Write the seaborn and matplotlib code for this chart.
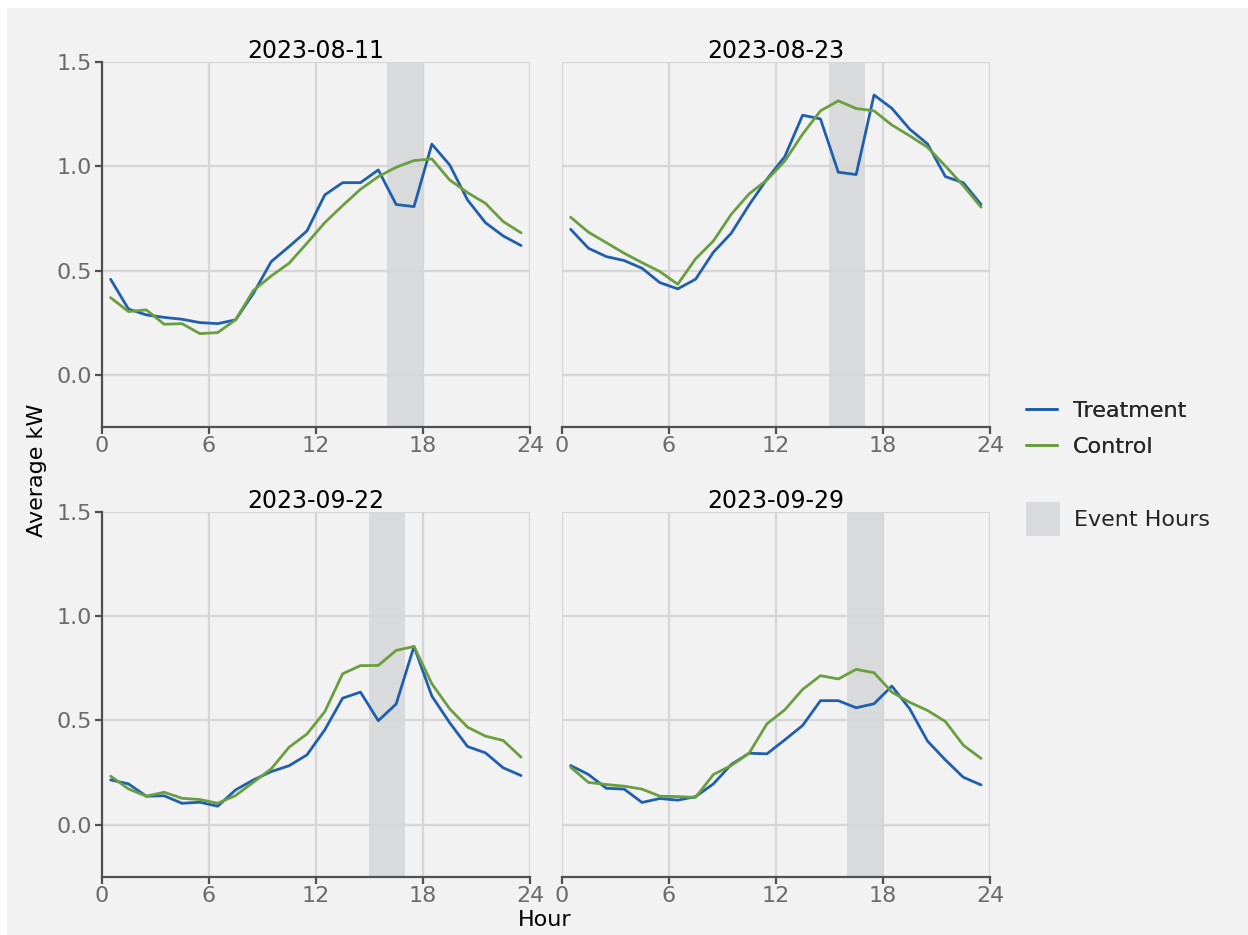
import numpy as np
import pandas as pd
import matplotlib
matplotlib.use("Agg")
import matplotlib.pyplot as plt
from matplotlib.patches import Rectangle, Patch
from matplotlib.lines import Line2D
import seaborn as sns

hours = [h + 0.5 for h in range(24)]
dates = ["2023-08-11", "2023-08-23", "2023-09-22", "2023-09-29"]
event_start = [16, 15, 15, 16]
event_end = [18, 17, 17, 18]

treat_0811 = [0.458, 0.315, 0.287, 0.275, 0.266, 0.250, 0.245, 0.263, 0.39, 0.543, 0.615, 0.69,
              0.863, 0.922, 0.922, 0.983, 0.817, 0.807, 1.107, 1.007, 0.839, 0.730, 0.666, 0.620]
ctrl_0811 = [0.370, 0.303, 0.311, 0.242, 0.245, 0.197, 0.202, 0.263, 0.404, 0.474, 0.535, 0.631,
             0.730, 0.812, 0.890, 0.951, 0.996, 1.028, 1.036, 0.935, 0.874, 0.823, 0.735, 0.681]
treat_0823 = [0.698, 0.607, 0.567, 0.548, 0.511, 0.442, 0.412, 0.458, 0.588, 0.679, 0.815, 0.939,
              1.047, 1.246, 1.228, 0.972, 0.961, 1.343, 1.279, 1.179, 1.108, 0.951, 0.922, 0.817]
ctrl_0823 = [0.756, 0.684, 0.634, 0.583, 0.538, 0.495, 0.434, 0.556, 0.642, 0.770, 0.868, 0.935,
             1.026, 1.155, 1.267, 1.315, 1.278, 1.267, 1.199, 1.147, 1.092, 1.002, 0.908, 0.804]
treat_0922 = [0.214, 0.195, 0.136, 0.138, 0.102, 0.107, 0.088, 0.166, 0.214, 0.254, 0.282, 0.334,
              0.454, 0.606, 0.635, 0.498, 0.578, 0.854, 0.616, 0.488, 0.374, 0.344, 0.272, 0.235]
ctrl_0922 = [0.232, 0.171, 0.136, 0.155, 0.126, 0.120, 0.102, 0.139, 0.203, 0.267, 0.371, 0.434,
             0.541, 0.723, 0.762, 0.763, 0.835, 0.854, 0.675, 0.555, 0.467, 0.424, 0.403, 0.323]
treat_0929 = [0.283, 0.240, 0.174, 0.170, 0.106, 0.125, 0.117, 0.134, 0.195, 0.288, 0.342, 0.339,
              0.406, 0.475, 0.594, 0.594, 0.560, 0.579, 0.664, 0.555, 0.400, 0.310, 0.227, 0.190]
ctrl_0929 = [0.275, 0.202, 0.192, 0.184, 0.170, 0.136, 0.134, 0.130, 0.240, 0.283, 0.342, 0.483,
             0.550, 0.648, 0.714, 0.698, 0.744, 0.728, 0.635, 0.586, 0.547, 0.494, 0.381, 0.317]

treatment = [treat_0811, treat_0823, treat_0922, treat_0929]
control = [ctrl_0811, ctrl_0823, ctrl_0922, ctrl_0929]

x_ticks = [0, 6, 12, 18, 24]
y_ticks = [0.0, 0.5, 1.0, 1.5]

rows = []
for d, tr, ct in zip(dates, treatment, control):
    for h, t, c in zip(hours, tr, ct):
        rows.append({"date": d, "hour": h, "group": "Treatment", "kw": t})
        rows.append({"date": d, "hour": h, "group": "Control", "kw": c})
df = pd.DataFrame(rows)

BG = "#f2f2f2"
BLUE = "#1f5fae"
GREEN = "#6a9e3f"
EVENT = "#d9dadc"
GRID = "#d6d6d6"
SPINE = "#505050"
TICKC = "#6b6b6b"

sns.set_theme(style="whitegrid")
plt.rcParams["font.family"] = ["DejaVu Sans"]

fig = plt.figure(figsize=(12.48, 9.35), dpi=100, facecolor="white")
fig.patches.append(Rectangle((7 / 1248, 0), 1 - 7 / 1248, 1 - 8 / 935,
                             transform=fig.transFigure, facecolor=BG, edgecolor="none", zorder=-10))

W, H = 1248, 935
lefts = [101.7, 561.7]
rights = [530.0, 990.0]
tops = [62.3, 511.7]
bottoms = [426.7, 876.7]

for i, d in enumerate(dates):
    r, c = divmod(i, 2)
    ax = fig.add_axes([lefts[c] / W, 1 - bottoms[r] / H,
                       (rights[c] - lefts[c]) / W, (bottoms[r] - tops[r]) / H])
    ax.set_facecolor(BG)
    ax.axvspan(event_start[i], event_end[i], color=EVENT, zorder=0.5, lw=0)
    sub = df[df["date"] == d]
    sns.lineplot(data=sub, x="hour", y="kw", hue="group",
                 hue_order=["Treatment", "Control"], palette=[BLUE, GREEN],
                 linewidth=2.0, ax=ax, legend=False, zorder=3)
    ax.set_xlim(0, 24)
    ax.set_ylim(-0.25, 1.5)
    ax.set_xticks(x_ticks)
    ax.set_yticks(y_ticks)
    ax.grid(True, color=GRID, linewidth=1.6)
    ax.set_axisbelow(True)
    ax.set_xlabel("")
    ax.set_ylabel("")
    ax.set_title(d, fontsize=17, color="black", pad=3)
    for s in ["top", "right"]:
        ax.spines[s].set_visible(False)
    ax.spines["bottom"].set_color(SPINE)
    ax.spines["bottom"].set_linewidth(1.6)
    if c == 0:
        ax.spines["left"].set_color(SPINE)
        ax.spines["left"].set_linewidth(1.6)
        ax.tick_params(axis="y", left=True, length=5, width=1.6, color=SPINE,
                       labelsize=16, labelcolor=TICKC, pad=2)
        ax.set_yticklabels([f"{v:.1f}" for v in y_ticks])
    else:
        ax.spines["left"].set_visible(False)
        ax.tick_params(axis="y", left=False, labelleft=False)
    ax.tick_params(axis="x", bottom=True, length=5, width=1.6, color=SPINE,
                   labelsize=16, labelcolor=TICKC, pad=2)

fig.text(545 / W, 1 - 920 / H, "Hour", ha="center", va="center", fontsize=16, color="black")
fig.text(37 / W, 1 - 470 / H, "Average kW", ha="center", va="center", rotation=90,
         fontsize=16, color="black")

line_handles = [Line2D([], [], color=BLUE, lw=2), Line2D([], [], color=GREEN, lw=2)]
leg1 = fig.legend(line_handles, ["Treatment", "Control"], loc="center left",
                  bbox_to_anchor=(1006 / W, 1 - 429 / H), frameon=False, fontsize=16,
                  handlelength=1.4, handletextpad=0.7, labelspacing=0.7)
leg2 = fig.legend([Patch(facecolor=EVENT, edgecolor="none")], ["Event Hours"],
                  loc="center left", bbox_to_anchor=(1006 / W, 1 - 519 / H), frameon=False,
                  fontsize=16, handlelength=1.55, handleheight=2.0, handletextpad=0.6)
fig.add_artist(leg1)

fig.savefig("out.png", dpi=100, facecolor=fig.get_facecolor())
